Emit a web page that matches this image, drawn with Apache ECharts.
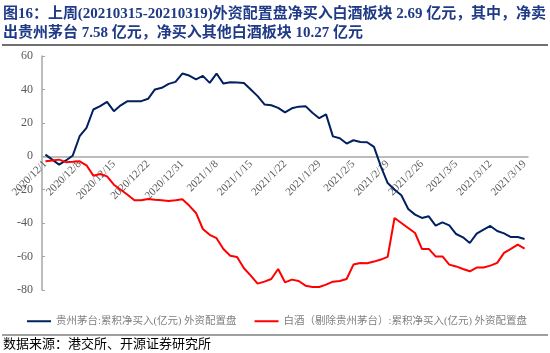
<!DOCTYPE html>
<html>
<head>
    <meta charset="UTF-8">
    <title>外资配置盘 白酒</title>
    <script src="https://cdn.jsdelivr.net/npm/echarts@6/dist/echarts.min.js"></script>
    <style>
        html, body { margin: 0; padding: 0; background: #fff; }
    </style>
</head>
<body>
    <div id="main" style="width: 550px;height:353px;"></div>

    <script type="text/javascript">
        // 日期（每5个交易日一个标签）
        var dates = [
            '2020/12/1', '2020/12/2', '2020/12/3', '2020/12/4', '2020/12/7',
            '2020/12/8', '2020/12/9', '2020/12/10', '2020/12/11', '2020/12/14',
            '2020/12/15', '2020/12/16', '2020/12/17', '2020/12/18', '2020/12/21',
            '2020/12/22', '2020/12/23', '2020/12/28', '2020/12/29', '2020/12/30',
            '2020/12/31', '2021/1/4', '2021/1/5', '2021/1/6', '2021/1/7',
            '2021/1/8', '2021/1/11', '2021/1/12', '2021/1/13', '2021/1/14',
            '2021/1/15', '2021/1/18', '2021/1/19', '2021/1/20', '2021/1/21',
            '2021/1/22', '2021/1/25', '2021/1/26', '2021/1/27', '2021/1/28',
            '2021/1/29', '2021/2/1', '2021/2/2', '2021/2/3', '2021/2/4',
            '2021/2/5', '2021/2/8', '2021/2/9', '2021/2/10', '2021/2/18',
            '2021/2/19', '2021/2/22', '2021/2/23', '2021/2/24', '2021/2/25',
            '2021/2/26', '2021/3/1', '2021/3/2', '2021/3/3', '2021/3/4',
            '2021/3/5', '2021/3/8', '2021/3/9', '2021/3/10', '2021/3/11',
            '2021/3/12', '2021/3/15', '2021/3/16', '2021/3/17', '2021/3/18',
            '2021/3/19'
        ];
        // 贵州茅台:累积净买入(亿元)
        var moutai = [
            1, -2, -5, -2.5, 0.5,
            12, 17, 28, 30, 32.5,
            27, 30.5, 33, 33, 33,
            34.4, 40, 41, 43.3, 44.5,
            49.5, 48.3, 46, 48.1, 43.9,
            49.5, 43.5, 44.3, 44.2, 43.9,
            40, 36, 31, 30.5, 29,
            26.3, 28.7, 29.7, 30, 26,
            22.8, 25.1, 11.9, 10.8, 7.6,
            9.6, 8.6, 8.4, 5.6, -6,
            -16, -20, -23.3, -31.5, -34.9,
            -36.9, -35.9, -41.5, -39.5, -41.3,
            -46.5, -48.5, -51.9, -46.3, -43.9,
            -41.7, -44.7, -46.1, -48.3, -48.3,
            -49.5
        ];
        // 白酒（剔除贵州茅台）:累积净买入(亿元)
        var baijiu = [
            -3, -2.5, -2, -3.5, -3.3,
            -3, -5.4, -11.6, -10.6, -12,
            -17, -20, -23, -26.3, -26.3,
            -25.5, -26, -26.3, -26.7, -26.3,
            -25.7, -29.5, -33.9, -43.5, -47,
            -49, -55.5, -59.5, -60.3, -67,
            -71.4, -76.2, -75, -73.4, -67.4,
            -75.4, -73.8, -74.6, -77.4, -78.2,
            -78.2, -76.8, -75, -74.6, -73.4,
            -64.8, -63.8, -64, -63, -61.8,
            -60.2, -36.9, -39.9, -42.9, -45.9,
            -55.4, -55.4, -59.9, -59.9, -64.8,
            -65.9, -67.4, -68.8, -66.6, -66.5,
            -65.4, -63.8, -57.8, -55.4, -52.9,
            -55.3
        ];
        var seriesNames = ['贵州茅台:累积净买入(亿元) 外资配置盘', '白酒（剔除贵州茅台）:累积净买入(亿元) 外资配置盘'];
        var yMin = -80, yMax = 60, yStep = 20;

        var titleLine1 = '图16：上周(20210315-20210319)外资配置盘净买入白酒板块 2.69 亿元，其中，净卖';
        var titleLine2 = '出贵州茅台 7.58 亿元，净买入其他白酒板块 10.27 亿元';
        var sourceText = '数据来源：港交所、开源证券研究所';

        var titleColor = '#1f3a86';
        var titleFont = "bold 15px 'Liberation Serif', 'Noto Sans CJK SC'";
        var cjkFont = "'Liberation Serif', 'Noto Sans CJK SC'";

        // 绘图区
        var W = 550, H = 353;
        var gLeft = 42, gRight = 22, gTop = 56, gBottom = 63;
        // 0 轴所在高度（日期标签挂在 0 轴下面）
        var zeroH = (H - gTop - gBottom) * (yMax - 0) / (yMax - yMin);

        // 第一行两端对齐：按字拆开，均分空隙
        function justifiedLine(text, x0, x1, y) {
            var ctx = document.createElement('canvas').getContext('2d');
            ctx.font = titleFont;
            var tokens = text.match(/[\u3000-\u303f\u4e00-\u9fff\uff00-\uffef]|[^\u3000-\u303f\u4e00-\u9fff\uff00-\uffef\s]+|\s+/g);
            var total = 0;
            tokens.forEach(function (t) { total += ctx.measureText(t).width; });
            var gap = (x1 - x0 - total) / (tokens.length - 1);
            var x = x0, els = [];
            tokens.forEach(function (t) {
                els.push({
                    type: 'text', x: x, y: y,
                    style: { text: t, font: titleFont, fill: titleColor, verticalAlign: 'middle' }
                });
                x += ctx.measureText(t).width + gap;
            });
            return els;
        }

        var graphics = justifiedLine(titleLine1, 3, 546, 14);
        graphics.push({
            type: 'text', x: 3, y: 33,
            style: { text: titleLine2, font: titleFont, fill: titleColor, verticalAlign: 'middle' }
        });
        graphics.push({
            type: 'line', shape: { x1: 2, y1: 45, x2: 548, y2: 45 },
            style: { stroke: '#404040', lineWidth: 1.5 }
        });
        graphics.push({
            type: 'line', shape: { x1: 2, y1: 335, x2: 548, y2: 335 },
            style: { stroke: '#404040', lineWidth: 1.2 }
        });
        graphics.push({
            type: 'text', x: 3, y: 345,
            style: { text: sourceText, font: "13px " + cjkFont, fill: '#000', verticalAlign: 'middle' }
        });

        var myChart = echarts.init(document.getElementById('main'));
        myChart.setOption({
            animation: false,
            graphic: graphics,
            grid: [
                { left: gLeft, right: gRight, top: gTop, bottom: gBottom },
                // 只用来放日期标签的上半区
                { left: gLeft, right: gRight, top: gTop, height: zeroH }
            ],
            legend: {
                left: 27, top: 316, padding: 0,
                icon: 'rect', itemWidth: 24, itemHeight: 2, itemGap: 18,
                textStyle: { fontSize: 10.5, color: '#7f7f7f', fontFamily: cjkFont },
                data: seriesNames
            },
            xAxis: [{
                type: 'category',
                data: dates,
                boundaryGap: true,
                axisLine: { onZero: true, lineStyle: { color: '#a6a6a6', width: 1.5 } },
                axisTick: { show: false },
                axisLabel: { show: false }
            }, {
                type: 'category',
                gridIndex: 1,
                data: dates,
                boundaryGap: true,
                axisLine: { show: false },
                axisTick: { interval: 4, length: 4, lineStyle: { color: '#a6a6a6' } },
                axisLabel: {
                    interval: 4, rotate: 45, margin: 6,
                    fontSize: 11, color: '#595959', fontFamily: 'Liberation Serif'
                }
            }],
            yAxis: [{
                type: 'value',
                min: yMin, max: yMax, interval: yStep,
                splitLine: { show: false },
                axisLine: { show: true, lineStyle: { color: '#a6a6a6', width: 1.5 } },
                axisTick: { show: true, inside: true, length: 3, lineStyle: { color: '#a6a6a6' } },
                axisLabel: { fontSize: 12, color: '#595959', fontFamily: 'Liberation Serif', margin: 9 }
            }, {
                type: 'value',
                gridIndex: 1,
                min: 0, max: 1,
                show: false
            }],
            series: [{
                name: seriesNames[0],
                type: 'line',
                data: moutai,
                symbol: 'none',
                color: '#002060',
                lineStyle: { width: 2 }
            }, {
                name: seriesNames[1],
                type: 'line',
                data: baijiu,
                symbol: 'none',
                color: '#ff0000',
                lineStyle: { width: 2 }
            }]
        });
    </script>
</body>
</html>
